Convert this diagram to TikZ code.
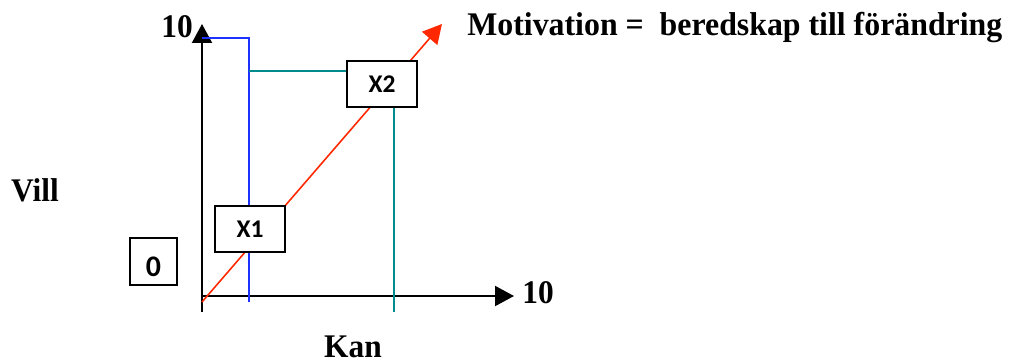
\documentclass[tikz,border=0pt]{standalone}
\usepackage{fontspec}
\usepackage{graphicx}
\setmainfont{Liberation Serif}
\newfontfamily\boxfont{Carlito}
\usetikzlibrary{arrows.meta,positioning}

\definecolor{lineblue}{RGB}{30,50,255}
\definecolor{lineteal}{RGB}{0,140,140}
\definecolor{linered}{RGB}{255,40,0}

\newcommand{\lbl}[1]{\scalebox{0.95}[1]{#1}}

\begin{document}
\begin{tikzpicture}[
    x=0.02cm, y=-0.02cm,
    every node/.style={font=\fontsize{18.8}{21}\selectfont\bfseries, inner sep=0pt},
    val/.style={draw, fill=white, line width=1.1pt, minimum width=39.8pt, minimum height=26.2pt,
        font=\boxfont\fontsize{14.5}{16}\selectfont\bfseries},
    axis/.style={line width=1.1pt, -{Triangle[length=10.8pt,width=11.4pt]}},
    >=Stealth
]
    \useasboundingbox (0,0) rectangle (1009,363);

    % axes
    \coordinate (yb) at (202,312);
    \coordinate (yt) at (202,24);
    \coordinate (xl) at (202,296);
    \coordinate (xr) at (514,296);
    \draw[axis] (yb) -- (yt);
    \draw[axis] (xl) -- (xr);

    \node (ymax) at (177,27) {\lbl{10}};
    \node (xmax) at (538,293) {\lbl{10}};
    \node (vill) at (35,190) {\lbl{Vill}};
    \node (kan) at (353,347) {\lbl{Kan}};

    % lines behind the boxes
    \coordinate (b0) at (249,302);
    \coordinate (b1) at (249,38);
    \draw[lineblue, line width=0.9pt] (b0) -- (b1) -- (b1 -| yt);

    \coordinate (r0) at (202,302);
    \coordinate (r1) at (442,24);
    \draw[linered, line width=0.9pt, -{Triangle[length=10.8pt,width=11.4pt]}] (r0) -- (r1);
    \node[anchor=west] (mot) at (467,28) {\scalebox{0.964}[1]{Motivation = \ beredskap till förändring}};

    \node[val] (x2) at (382,84) {X2};
    \node[val] (x1) at (250,229) {X1};
    \node[val, minimum width=26.7pt, minimum height=26.7pt, font=\boxfont\fontsize{17}{18}\selectfont\bfseries,
        text height=17pt, text depth=0pt] (zero) at (153.5,261.5) {0};

    \coordinate (t0) at (394,312);
    \coordinate (t1) at (249,71);
    \draw[lineteal, line width=0.9pt] (t1) -- (t1 -| x2.west);
    \draw[lineteal, line width=0.9pt] (t0) -- (t0 |- x2.south);
\end{tikzpicture}
\end{document}
